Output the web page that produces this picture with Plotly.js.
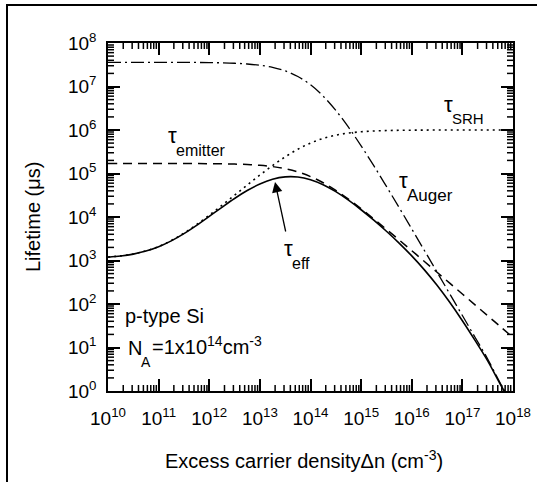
<!DOCTYPE html>
<html><head><meta charset="utf-8">
<script src="https://cdn.plot.ly/plotly-3.0.1.min.js"></script>
<style>html,body{margin:0;padding:0;background:#fff;}#chart{width:537px;height:482px;}</style>
</head><body><div id="chart"></div>
<script>
// Excess carrier density (cm^-3)
const dn = [1e10,1.778e10,3.162e10,5.623e10,1e11,1.778e11,3.162e11,5.623e11,1e12,1.778e12,3.162e12,5.623e12,
  1e13,1.778e13,3.162e13,5.623e13,1e14,1.778e14,3.162e14,5.623e14,1e15,1.778e15,3.162e15,5.623e15,
  1e16,1.778e16,3.162e16,5.623e16,1e17,1.778e17,3.162e17,5.623e17,1e18];
// Lifetimes (µs)
const tauAuger = [3.6e7,3.599e7,3.598e7,3.595e7,3.594e7,3.59e7,3.582e7,3.567e7,3.542e7,3.498e7,3.422e7,3.292e7,
  3.079e7,2.748e7,2.278e7,1.695e7,1.095e7,6.02e6,2.82e6,1.16e6,4.32e5,1.51e5,5.04e4,1.65e4,
  5315,1699,540,171.5,54.3,17.2,5.44,1.5,0.45];
const tauSRH = [1200,1278,1416,1662,2099,2875,4252,6692,11001,18570,31750,54340,
  92010,152100,241300,361100,501100,641200,760800,850100,910200,947900,970400,983600,
  991200,995500,997900,999300,1000000,1000500,1000800,1001000,1001000];
const tauEmitter = [1.7e5,169970,169946,169904,169830,169698,169464,169050,168317,167030,164790,160950,
  154550,144340,129160,108810,85000,61195,40846,25668,15455,9052,5212,2970,
  1683,950.8,535.9,301.8,169.8,95.56,53.75,30.23,17.0];
const tauEff = [1192,1268,1404,1646,2073,2827,4148,6437,10326,16711,26597,40576,
  57568,73860,83822,83209,72194,55349,38241,24392,14680,8463,4701,2511,
  1277,609.2,269.0,109.3,41.16,14.58,4.942,1.43,0.44];
// Tick labels
const xTickVals = [1e10,1e11,1e12,1e13,1e14,1e15,1e16,1e17,1e18];
const xTickText = ['10<sup>10</sup>','10<sup>11</sup>','10<sup>12</sup>','10<sup>13</sup>','10<sup>14</sup>','10<sup>15</sup>','10<sup>16</sup>','10<sup>17</sup>','10<sup>18</sup>'];
const yTickVals = [1,10,100,1e3,1e4,1e5,1e6,1e7,1e8];
const yTickText = ['10<sup>0</sup>','10<sup>1</sup>','10<sup>2</sup>','10<sup>3</sup>','10<sup>4</sup>','10<sup>5</sup>','10<sup>6</sup>','10<sup>7</sup>','10<sup>8</sup>'];

function minorVals(lo, hi){ const v=[]; for(let e=lo;e<hi;e++){ for(let m=2;m<=9;m++) v.push(m*Math.pow(10,e)); } return v; }

const FONT = 'Liberation Sans, Arial, Helvetica, sans-serif';
const L=108, R=24, T=43, B=91, W=537, H=482;
const PW = W-L-R, PH = H-T-B;
const px = x => (x-L)/PW;
const py = y => (H-B-y)/PH;
const X_LO=10, X_HI=18, Y_LO=0, Y_HI=8;
const decX = PW/(X_HI-X_LO), decY = PH/(Y_HI-Y_LO); // pixels per decade

const blk = 'black';

// inward minor tick marks on all four sides, built from the tick arrays through the axis scale
function tickTrace(len){
  const xs=[], ys=[];
  function addX(v){
    const dy = len/decY;
    xs.push(v, v, null, v, v, null);
    ys.push(Math.pow(10,Y_LO), Math.pow(10,Y_LO+dy), null, Math.pow(10,Y_HI), Math.pow(10,Y_HI-dy), null);
  }
  function addY(v){
    const dx = len/decX;
    ys.push(v, v, null, v, v, null);
    xs.push(Math.pow(10,X_LO), Math.pow(10,X_LO+dx), null, Math.pow(10,X_HI), Math.pow(10,X_HI-dx), null);
  }
  minorVals(X_LO,X_HI).forEach(addX);
  minorVals(Y_LO,Y_HI).forEach(addY);
  return {x:xs, y:ys, mode:'lines', line:{color:blk, width:1.5, shape:'linear'}, connectgaps:false, hoverinfo:'skip'};
}

const traces = [
  tickTrace(6),
  {x: dn, y: tauAuger, mode:'lines', line:{color:blk, width:1.3, dash:'13px,4px,2px,4px', shape:'spline'}},
  {x: dn, y: tauSRH, mode:'lines', line:{color:blk, width:1.6, dash:'2px,4px', shape:'spline'}},
  {x: dn, y: tauEmitter, mode:'lines', line:{color:blk, width:1.5, dash:'9px,6px', shape:'spline'}},
  {x: dn, y: tauEff, mode:'lines', line:{color:blk, width:1.6, shape:'spline'}}
];

function ann(x, y, text, size, opts){
  return Object.assign({xref:'paper', yref:'paper', x:px(x), y:py(y), text:text, showarrow:false,
    xanchor:'center', yanchor:'middle', font:{family:FONT, size:size, color:blk}}, opts||{});
}
const annotations = [
  ann(172,135,'τ',22), ann(201,150,'emitter',16),
  ann(448,105,'τ',22), ann(467.5,119,'SRH',15),
  ann(403,180,'τ',22), ann(429.5,195,'Auger',17),
  ann(288,248,'τ',22), ann(301,263,'eff',16),
  ann(123,316,'p-type Si',20,{xanchor:'left'}),
  ann(126,348,'N',20,{xanchor:'left'}),
  ann(146,362,'A',14),
  ann(150,345,'=1x10<sup>14</sup>cm<sup>-3</sup>',20,{xanchor:'left'}),
  ann(304,459,'Excess carrier density\u0394n (cm<sup>-3</sup>)',20),
  ann(33,217,'Lifetime (\u03bcs)',20,{textangle:-90}),
  {xref:'paper', yref:'paper', x:px(275), y:py(182), ax:11, ay:51, axref:'pixel', ayref:'pixel',
   text:'', showarrow:true, arrowhead:2, arrowsize:1.6, arrowwidth:1.3, arrowcolor:blk, standoff:0}
];

// frame lines of the figure
const shapes = [
  {type:'line', xref:'paper', yref:'paper', x0:px(7), x1:px(540), y0:py(5), y1:py(5), line:{color:blk, width:2}},
  {type:'line', xref:'paper', yref:'paper', x0:px(7), x1:px(7), y0:py(4), y1:py(485), line:{color:blk, width:2}}
];

const axisCommon = {
  type:'log', showgrid:false, zeroline:false, showline:true, linecolor:blk, linewidth:1.5,
  mirror:'allticks', ticks:'inside', ticklen:12, tickwidth:1.5, tickcolor:blk,
  tickmode:'array', tickfont:{family:FONT, size:19, color:blk}
};

const layout = {
  width:W, height:H, margin:{l:L, r:R, t:T, b:B},
  paper_bgcolor:'white', plot_bgcolor:'white', showlegend:false,
  xaxis: Object.assign({}, axisCommon, {range:[X_LO,X_HI], tickvals:xTickVals, ticktext:xTickText, ticklabelstandoff:9}),
  yaxis: Object.assign({}, axisCommon, {range:[Y_LO,Y_HI], tickvals:yTickVals, ticktext:yTickText, ticklabelstandoff:6}),
  annotations: annotations,
  shapes: shapes
};

Plotly.newPlot('chart', traces, layout, {displayModeBar:false});
</script></body></html>
